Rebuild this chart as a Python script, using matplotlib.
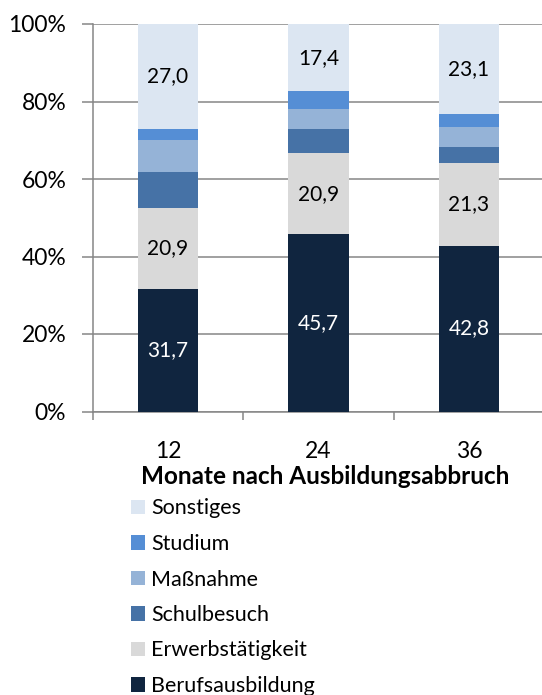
import numpy as np
import matplotlib
matplotlib.use("Agg")
import matplotlib.pyplot as plt

plt.rcParams["font.family"] = ["Lato", "DejaVu Sans"]

# data (percent shares)
months = ["12", "24", "36"]
berufsausbildung = [31.7, 45.7, 42.8]
erwerbstaetigkeit = [20.9, 20.9, 21.3]
schulbesuch = [9.2, 6.3, 4.2]
massnahme = [8.3, 5.2, 5.2]
studium = [2.9, 4.5, 3.4]
sonstiges = [27.0, 17.4, 23.1]

series = [
    ("Berufsausbildung", berufsausbildung, "#10253f", "white"),
    ("Erwerbstätigkeit", erwerbstaetigkeit, "#d9d9d9", "black"),
    ("Schulbesuch", schulbesuch, "#4672a6", None),
    ("Maßnahme", massnahme, "#95b3d7", None),
    ("Studium", studium, "#558ed5", None),
    ("Sonstiges", sonstiges, "#dce6f2", "black"),
]

W, H = 542, 695
fig = plt.figure(figsize=(W / 100, H / 100), dpi=100)
left, right, top, bottom = 92.7, 544.2, 24.0, 411.5
ax = fig.add_axes([left / W, 1 - bottom / H, (right - left) / W, (bottom - top) / H])

x = np.arange(len(months))
base = np.zeros(len(months))
handles = []
for name, vals, color, lbl_color in series:
    bars = ax.bar(x, vals, 0.4, bottom=base, color=color, label=name, zorder=3)
    if lbl_color:
        ax.bar_label(bars, labels=[f"{v:.1f}".replace(".", ",") for v in vals],
                     label_type="center", color=lbl_color, fontsize=15)
    base += np.array(vals)
    handles.append(bars)

grid_c = "#868686"
ax.set_xlim(-0.5, 2.5)
ax.set_ylim(0, 100)
ax.set_yticks(np.arange(0, 101, 20))
ax.set_yticklabels([f"{v}%" for v in range(0, 101, 20)], fontsize=16.5)
ax.yaxis.grid(True, color=grid_c, linewidth=1.1, zorder=0)
ax.tick_params(axis="y", length=8, width=1.1, color=grid_c, pad=11)

ax.set_xticks([-0.5, 0.5, 1.5, 2.5])
ax.set_xticklabels([])
ax.set_xticks(x, minor=True)
ax.set_xticklabels(months, minor=True, fontsize=16.5)
ax.tick_params(axis="x", which="major", length=6, width=1.1, color=grid_c)
ax.tick_params(axis="x", which="minor", length=0, pad=21)

for s in ["top", "right"]:
    ax.spines[s].set_visible(False)
for s in ["left", "bottom"]:
    ax.spines[s].set_color(grid_c)
    ax.spines[s].set_linewidth(1.1)

ax.set_xlabel("Monate nach Ausbildungsabbruch", fontsize=17.5, fontweight="bold")
ax.xaxis.label.set_va("center")
ax.xaxis.set_label_coords((325 - left) / (right - left), (bottom - 477) / (bottom - top))

fig.legend(handles=handles[::-1], loc="upper left",
           bbox_to_anchor=(131 / W, 1 - 498.5 / H), frameon=False, fontsize=15.5,
           handlelength=0.65, handleheight=0.65, handletextpad=0.27,
           labelspacing=0.72, borderpad=0, borderaxespad=0)

fig.savefig("out.png", dpi=100)
